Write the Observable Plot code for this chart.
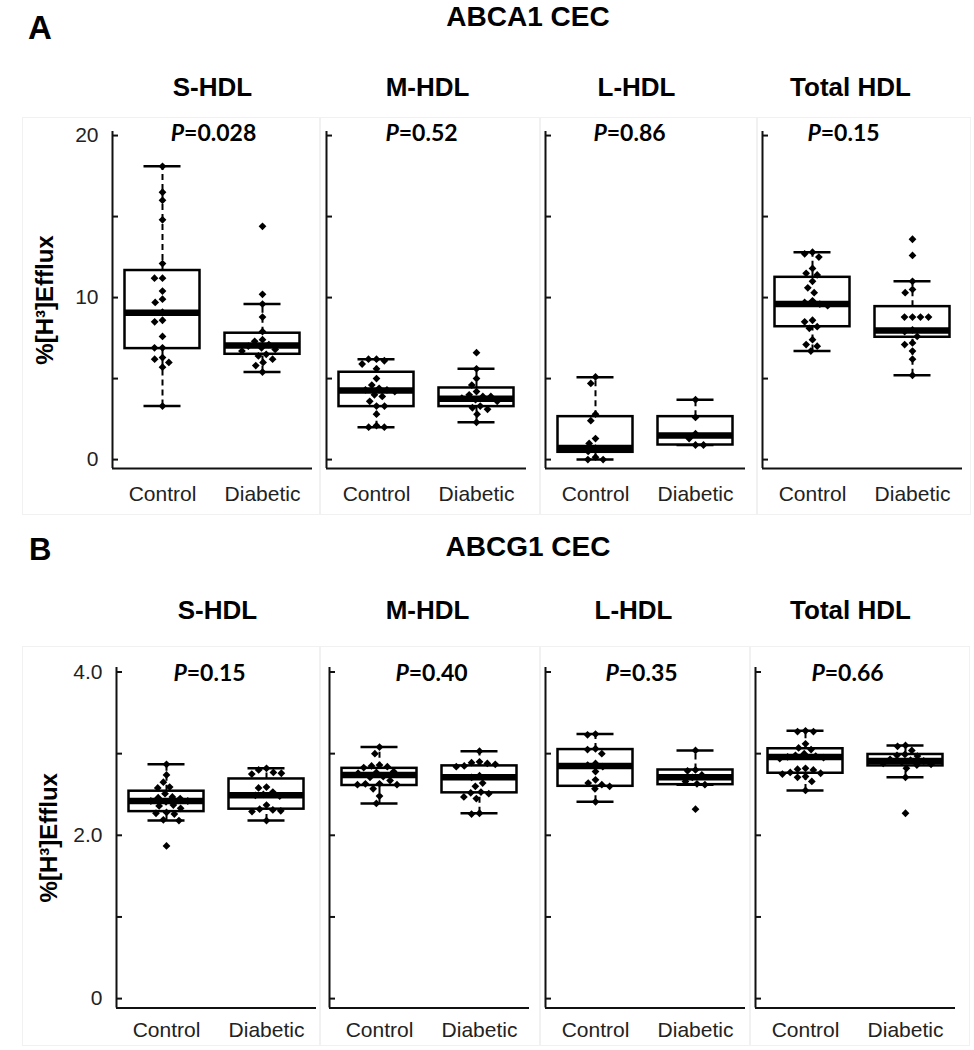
<!DOCTYPE html>
<html><head><meta charset="utf-8">
<script src="https://cdn.jsdelivr.net/npm/d3@7"></script>
<script src="https://cdn.jsdelivr.net/npm/@observablehq/plot@0.6"></script>
<style>
body{margin:0;background:#fff;}
#root{position:relative;width:974px;height:1050px;overflow:hidden;font-family:"Liberation Sans",Arial,sans-serif;}
#root svg{position:absolute;}
.pane{position:absolute;border:1px solid #f1f1f1;box-sizing:border-box;}
</style></head><body><div id="root"></div>
<script>
// ---------------- data ----------------
const groups = ["Control", "Diabetic"];
const fractions = ["S-HDL", "M-HDL", "L-HDL", "Total HDL"];
const yLabel = "%[H³]Efflux";

const abca1_p = ["0.028", "0.52", "0.86", "0.15"];
const abcg1_p = ["0.15", "0.40", "0.35", "0.66"];

const abca1_ticks = [0, 5, 10, 15, 20];
const abca1_tickLabels = ["0", "", "10", "", "20"];
const abcg1_ticks = [0, 1, 2, 3, 4];
const abcg1_tickLabels = ["0", "", "2.0", "", "4.0"];

// ABCA1 CEC individual values
const abca1_S_control = [18.1, 16.5, 16.0, 14.8, 12.1, 11.2, 11.2, 10.4, 9.9, 9.7, 9.1, 8.6, 8.5, 7.6, 6.9, 6.9, 6.3, 6.2, 6.0, 5.7, 3.3];
const abca1_S_diabetic = [14.4, 10.2, 9.6, 8.8, 7.9, 7.4, 7.3, 7.1, 7.0, 6.9, 6.8, 6.7, 6.5, 6.4, 6.2, 6.0, 5.8, 5.4];
const abca1_M_control = [6.2, 6.2, 6.1, 5.9, 5.6, 5.0, 4.6, 4.4, 4.3, 4.3, 4.2, 4.0, 3.9, 3.6, 3.3, 3.3, 2.8, 2.1, 2.0, 2.0];
const abca1_M_diabetic = [6.6, 5.6, 5.0, 4.6, 4.2, 4.0, 3.9, 3.9, 3.8, 3.7, 3.6, 3.3, 3.2, 3.1, 2.8, 2.3];
const abca1_L_control = [5.1, 4.7, 2.8, 2.4, 1.3, 1.0, 0.7, 0.5, 0.15, 0.0, 0.0];
const abca1_L_diabetic = [3.7, 2.6, 1.6, 1.3, 0.9, 0.9];
const abca1_T_control = [12.8, 12.7, 12.5, 11.8, 11.5, 11.4, 11.0, 10.6, 10.3, 9.8, 9.7, 9.6, 9.5, 8.6, 8.5, 8.2, 8.1, 7.4, 7.1, 7.0, 6.7];
const abca1_T_diabetic = [13.6, 12.6, 11.0, 10.5, 10.3, 8.8, 8.8, 8.8, 8.8, 8.0, 7.9, 7.6, 7.2, 7.1, 6.7, 6.2, 5.2];

// ABCA1 box statistics: [lower whisker, Q1, median, Q3, upper whisker]
const abca1_S_control_box = [3.3, 6.85, 9.07, 11.67, 18.1];
const abca1_S_diabetic_box = [5.4, 6.5, 7.04, 7.8, 9.6];
const abca1_M_control_box = [2.0, 3.27, 4.26, 5.39, 6.2];
const abca1_M_diabetic_box = [2.3, 3.27, 3.75, 4.42, 5.6];
const abca1_L_control_box = [0.0, 0.45, 0.72, 2.65, 5.08];
const abca1_L_diabetic_box = [0.9, 0.9, 1.48, 2.65, 3.7];
const abca1_T_control_box = [6.7, 8.2, 9.6, 11.25, 12.8];
const abca1_T_diabetic_box = [5.2, 7.55, 7.96, 9.44, 11.0];

// ABCG1 CEC individual values
const abcg1_S_control = [2.87, 2.74, 2.65, 2.59, 2.58, 2.51, 2.47, 2.46, 2.45, 2.42, 2.42, 2.41, 2.37, 2.36, 2.33, 2.28, 2.27, 2.26, 2.19, 2.18, 1.87];
const abcg1_S_diabetic = [2.82, 2.80, 2.77, 2.76, 2.75, 2.59, 2.58, 2.53, 2.50, 2.49, 2.48, 2.37, 2.32, 2.31, 2.30, 2.29, 2.18];
const abcg1_M_control = [3.08, 3.00, 2.86, 2.85, 2.84, 2.83, 2.78, 2.77, 2.76, 2.72, 2.71, 2.67, 2.63, 2.63, 2.62, 2.62, 2.57, 2.48, 2.39];
const abcg1_M_diabetic = [3.03, 2.90, 2.89, 2.88, 2.87, 2.85, 2.84, 2.73, 2.71, 2.64, 2.60, 2.53, 2.52, 2.51, 2.47, 2.45, 2.27, 2.26];
const abcg1_L_control = [3.24, 3.23, 3.06, 3.05, 3.00, 2.88, 2.86, 2.84, 2.78, 2.68, 2.64, 2.62, 2.60, 2.57, 2.41];
const abcg1_L_diabetic = [3.04, 2.80, 2.79, 2.74, 2.71, 2.66, 2.63, 2.62, 2.32];
const abcg1_T_control = [3.28, 3.27, 3.27, 3.12, 3.07, 3.05, 3.00, 2.98, 2.97, 2.96, 2.95, 2.94, 2.82, 2.81, 2.80, 2.77, 2.76, 2.75, 2.72, 2.71, 2.66, 2.55];
const abcg1_T_diabetic = [3.10, 3.09, 3.04, 2.99, 2.98, 2.97, 2.93, 2.92, 2.91, 2.90, 2.88, 2.87, 2.86, 2.82, 2.71, 2.27];

// ABCG1 box statistics: [lower whisker, Q1, median, Q3, upper whisker]
const abcg1_S_control_box = [2.18, 2.29, 2.42, 2.54, 2.87];
const abcg1_S_diabetic_box = [2.18, 2.32, 2.49, 2.69, 2.82];
const abcg1_M_control_box = [2.39, 2.61, 2.74, 2.82, 3.08];
const abcg1_M_diabetic_box = [2.27, 2.52, 2.71, 2.85, 3.03];
const abcg1_L_control_box = [2.41, 2.60, 2.85, 3.05, 3.24];
const abcg1_L_diabetic_box = [2.62, 2.62, 2.71, 2.80, 3.04];
const abcg1_T_control_box = [2.55, 2.76, 2.96, 3.06, 3.28];
const abcg1_T_diabetic_box = [2.71, 2.85, 2.91, 2.99, 3.10];

// ---------------- layout ----------------
const rowA = {
  title: "ABCA1 CEC", letter: "A", p: abca1_p, ticks: abca1_ticks, tickLabels: abca1_tickLabels,
  points: [[abca1_S_control, abca1_S_diabetic], [abca1_M_control, abca1_M_diabetic], [abca1_L_control, abca1_L_diabetic], [abca1_T_control, abca1_T_diabetic]],
  boxes: [[abca1_S_control_box, abca1_S_diabetic_box], [abca1_M_control_box, abca1_M_diabetic_box], [abca1_L_control_box, abca1_L_diabetic_box], [abca1_T_control_box, abca1_T_diabetic_box]],
  top: 50, height: 465, frameTop: 131, frameBottom: 468, domain: [-0.55, 20.25],
  axisX: [112, 326, 545, 762], titleDx: [0, 1, -9, -12], pDx: [1, -5, -16, -19],
  titleDy: -36, pDy: 9, labelDy: 32
};
const rowB = {
  title: "ABCG1 CEC", letter: "B", p: abcg1_p, ticks: abcg1_ticks, tickLabels: abcg1_tickLabels,
  points: [[abcg1_S_control, abcg1_S_diabetic], [abcg1_M_control, abcg1_M_diabetic], [abcg1_L_control, abcg1_L_diabetic], [abcg1_T_control, abcg1_T_diabetic]],
  boxes: [[abcg1_S_control_box, abcg1_S_diabetic_box], [abcg1_M_control_box, abcg1_M_diabetic_box], [abcg1_L_control_box, abcg1_L_diabetic_box], [abcg1_T_control_box, abcg1_T_diabetic_box]],
  top: 580, height: 465, frameTop: 667, frameBottom: 1007.5, domain: [-0.115, 4.055],
  axisX: [116, 329, 545, 755], titleDx: [1, -2, -12, -5], pDx: [-7, 2, -4, -8],
  titleDy: -49, pDy: 13, labelDy: 29
};

const root = document.getElementById("root");
const NS = "http://www.w3.org/2000/svg";

function drawPanel(row, i) {
  const L = row.axisX[i];
  const ml = i === 0 ? L : 14;
  const mr = 14;
  const W = ml + 200 + mr;
  const mt = row.frameTop - row.top;
  const mb = row.top + row.height - row.frameBottom;
  const [y0, y1] = row.domain;
  const first = () => "Control";
  const pointData = groups.flatMap((g, k) => row.points[i][k].map(value => ({group: g, value})));
  const boxData = groups.map((g, k) => {
    const b = row.boxes[i][k];
    return {group: g, lo: b[0], q1: b[1], med: b[2], q3: b[3], hi: b[4]};
  });
  const marks = [
    Plot.ruleX([0], {x: () => 0, y1: () => y0, y2: () => y1, fx: first, stroke: "#111", strokeWidth: 2}),
    Plot.ruleY([y0], {y: d => d, stroke: "#111", strokeWidth: 2}),
    Plot.tickY(row.ticks, {y: d => d, fx: first, insetRight: 94, stroke: "#111", strokeWidth: 2}),
    Plot.ruleX(boxData, {x: () => 0.5, y1: "lo", y2: "q1", fx: "group", stroke: "black", strokeWidth: 2, strokeDasharray: "6,4"}),
    Plot.ruleX(boxData, {x: () => 0.5, y1: "q3", y2: "hi", fx: "group", stroke: "black", strokeWidth: 2, strokeDasharray: "6,4"}),
    Plot.tickY(boxData, {y: "lo", fx: "group", insetLeft: 31.5, insetRight: 31.5, stroke: "black", strokeWidth: 2.5}),
    Plot.tickY(boxData, {y: "hi", fx: "group", insetLeft: 31.5, insetRight: 31.5, stroke: "black", strokeWidth: 2.5}),
    Plot.rect(boxData, {y1: "q1", y2: "q3", fx: "group", insetLeft: 12.5, insetRight: 12.5, fill: "white", stroke: "black", strokeWidth: 2.5}),
    Plot.tickY(boxData, {y: "med", fx: "group", insetLeft: 12.5, insetRight: 12.5, stroke: "black", strokeWidth: 6.5}),
    Plot.dot(pointData, Plot.dodgeX("middle", {y: "value", fx: "group", r: 3.5, symbol: "diamond2", fill: "black", stroke: "none"})),
    Plot.text(groups, {fx: d => d, text: d => d, frameAnchor: "bottom", lineAnchor: "bottom", dy: row.labelDy, fontSize: 21, fill: "#222"}),
    Plot.text([fractions[i]], {fx: first, frameAnchor: "top-right", textAnchor: "middle", lineAnchor: "bottom", dy: row.titleDy, dx: row.titleDx[i], fontSize: 26, fontWeight: "bold", fill: "black"}),
    Plot.text(["P=" + row.p[i]], {fx: first, frameAnchor: "top-right", textAnchor: "middle", lineAnchor: "bottom", dy: row.pDy, dx: row.pDx[i], fontSize: 23, fontWeight: "bold", fontFamily: "Lato, 'Open Sans', sans-serif", fill: "black"})
  ];
  if (i === 0) {
    marks.push(
      Plot.text(row.ticks, {y: d => d, text: (d, j) => row.tickLabels[j], fx: first, frameAnchor: "left", textAnchor: "end", dx: -14, fontSize: 21, fill: "#222"}),
      Plot.text([yLabel], {fx: first, frameAnchor: "left", textAnchor: "middle", lineAnchor: "middle", rotate: -90, dx: -67, fontSize: 24, fontWeight: "bold", fill: "black"})
    );
  }
  const svg = Plot.plot({
    width: W, height: row.height,
    marginLeft: ml, marginRight: mr, marginTop: mt, marginBottom: mb,
    style: {background: "transparent", overflow: "visible", fontFamily: "'Liberation Sans', Arial, sans-serif"},
    x: {domain: [0, 1], axis: null},
    y: {domain: [y0, y1], axis: null},
    fx: {domain: groups, axis: null, padding: 0},
    marks
  });
  svg.style.left = (L - ml) + "px";
  svg.style.top = row.top + "px";
  for (const t of svg.querySelectorAll("text")) {
    const s = t.textContent;
    if (s.startsWith("P=") && t.children.length === 0) {
      t.textContent = "";
      const a = document.createElementNS(NS, "tspan");
      a.setAttribute("font-style", "italic");
      a.textContent = "P";
      t.append(a, s.slice(1));
    }
  }
  root.appendChild(svg);
}

// faint panel frames (as in the source figure)
const panes = [
  [22, 117, 298, 398], [320, 117, 220, 398], [540, 117, 217, 398], [757, 117, 214, 398],
  [22, 646, 298, 400], [320, 646, 220, 400], [540, 646, 210, 400], [750, 646, 220, 400]
];
for (const [x, y, w, h] of panes) {
  const d = document.createElement("div");
  d.className = "pane";
  Object.assign(d.style, {left: x + "px", top: y + "px", width: w + "px", height: h + "px"});
  root.appendChild(d);
}

for (const row of [rowA, rowB]) for (let i = 0; i < 4; i++) drawPanel(row, i);

// section headings
const head = document.createElementNS(NS, "svg");
head.setAttribute("width", 974); head.setAttribute("height", 1050);
head.style.left = "0px"; head.style.top = "0px"; head.style.pointerEvents = "none";
const headings = [
  {text: "A", x: 28, y: 39, size: 33, anchor: "start"},
  {text: rowA.title, x: 528, y: 26, size: 28, anchor: "middle"},
  {text: "B", x: 29, y: 560, size: 31, anchor: "start"},
  {text: rowB.title, x: 528, y: 556, size: 28, anchor: "middle"}
];
for (const h of headings) {
  const t = document.createElementNS(NS, "text");
  t.setAttribute("x", h.x); t.setAttribute("y", h.y);
  t.setAttribute("font-size", h.size); t.setAttribute("font-weight", "bold");
  t.setAttribute("text-anchor", h.anchor);
  t.setAttribute("font-family", "'Liberation Sans', Arial, sans-serif");
  t.textContent = h.text;
  head.appendChild(t);
}
root.appendChild(head);
</script>
</body></html>
